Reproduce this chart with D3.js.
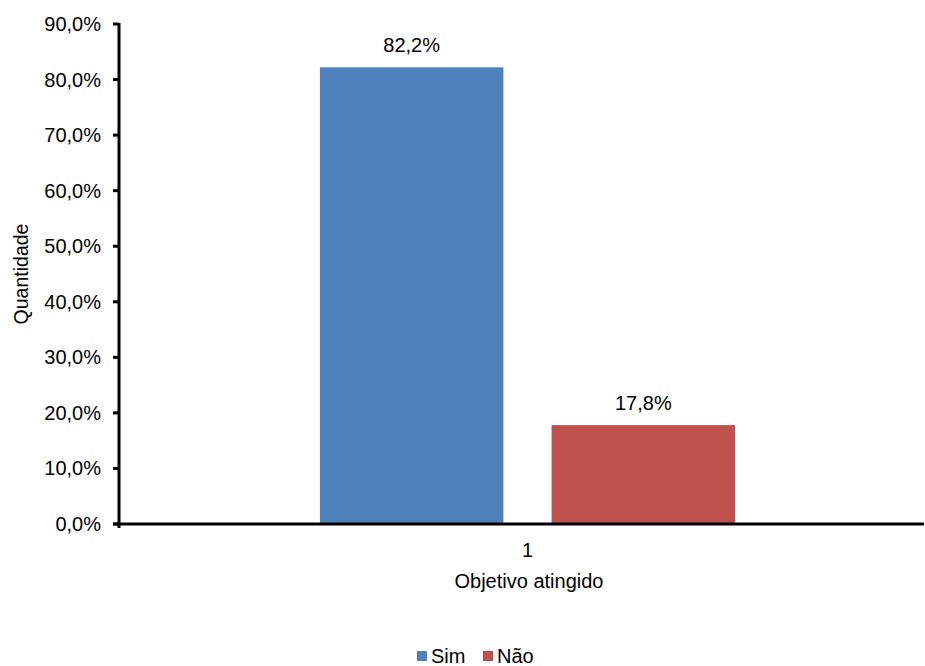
<!DOCTYPE html>
<html>
<head>
<meta charset="utf-8">
<script src="https://cdn.jsdelivr.net/npm/d3@7"></script>
<style>
  html, body { margin: 0; padding: 0; background: #fff; }
  svg { display: block; font-family: "Liberation Sans", Arial, sans-serif; }
</style>
</head>
<body>
<svg id="chart" width="925" height="666"></svg>
<script>
// Data
const categories = ["1"];
const seriesNames = ["Sim", "Não"];
const seriesValues = [82.2, 17.8];
const seriesColors = ["#4F81BD", "#C0504D"];
const yTicks = [0, 10, 20, 30, 40, 50, 60, 70, 80, 90];

const svg = d3.select("#chart");
const fmt = v => v.toFixed(1).replace(".", ",") + "%";
const FS = 20;

const plotLeft = 119, plotRight = 924, plotTop = 24, plotBottom = 524;

const y = d3.scaleLinear().domain([0, 90]).range([plotBottom, plotTop]);
const x0 = d3.scaleBand().domain(categories).range([plotLeft, 936]).paddingInner(0).paddingOuter(0.484);
const x1 = d3.scaleBand().domain(seriesNames).range([0, x0.bandwidth()]).paddingInner(0.208).paddingOuter(0);

// Bars with value labels
const g = svg.append("g");
categories.forEach(cat => {
  seriesNames.forEach((s, i) => {
    const v = seriesValues[i];
    g.append("rect")
      .attr("x", x0(cat) + x1(s))
      .attr("y", y(v))
      .attr("width", x1.bandwidth())
      .attr("height", y(0) - y(v))
      .attr("fill", seriesColors[i]);
    g.append("text")
      .attr("x", x0(cat) + x1(s) + x1.bandwidth() / 2)
      .attr("y", y(v) - 22)
      .attr("dy", "0.35em")
      .attr("text-anchor", "middle")
      .attr("font-size", FS)
      .attr("fill", "#000")
      .text(fmt(v));
  });
});

// Y axis
const yAxis = svg.append("g");
yAxis.append("line")
  .attr("x1", plotLeft).attr("x2", plotLeft)
  .attr("y1", plotTop - 1).attr("y2", plotBottom + 4)
  .attr("stroke", "#000").attr("stroke-width", 3);
yTicks.forEach(t => {
  yAxis.append("line")
    .attr("x1", plotLeft - 6).attr("x2", plotLeft)
    .attr("y1", y(t)).attr("y2", y(t))
    .attr("stroke", "#000").attr("stroke-width", 3);
  yAxis.append("text")
    .attr("x", 101).attr("y", y(t))
    .attr("dy", "0.35em")
    .attr("text-anchor", "end")
    .attr("font-size", FS)
    .text(fmt(t));
});

// X axis
svg.append("line")
  .attr("x1", plotLeft - 6).attr("x2", plotRight)
  .attr("y1", plotBottom).attr("y2", plotBottom)
  .attr("stroke", "#000").attr("stroke-width", 3);
categories.forEach(cat => {
  svg.append("text")
    .attr("x", x0(cat) + x0.bandwidth() / 2)
    .attr("y", 550).attr("dy", "0.35em")
    .attr("text-anchor", "middle")
    .attr("font-size", FS)
    .text(cat);
});

// Axis titles
svg.append("text")
  .attr("x", 529).attr("y", 581).attr("dy", "0.35em")
  .attr("text-anchor", "middle")
  .attr("font-size", FS)
  .text("Objetivo atingido");
svg.append("text")
  .attr("transform", "translate(21,274) rotate(-90)")
  .attr("dy", "0.35em")
  .attr("text-anchor", "middle")
  .attr("font-size", 19.5)
  .text("Quantidade");

// Legend
const legend = svg.append("g");
const legendX = [417, 483];
seriesNames.forEach((s, i) => {
  legend.append("rect")
    .attr("x", legendX[i]).attr("y", 651)
    .attr("width", 10).attr("height", 10)
    .attr("fill", seriesColors[i]);
  legend.append("text")
    .attr("x", legendX[i] + 14).attr("y", 656)
    .attr("dy", "0.35em")
    .attr("font-size", FS)
    .text(s);
});
</script>
</body>
</html>
